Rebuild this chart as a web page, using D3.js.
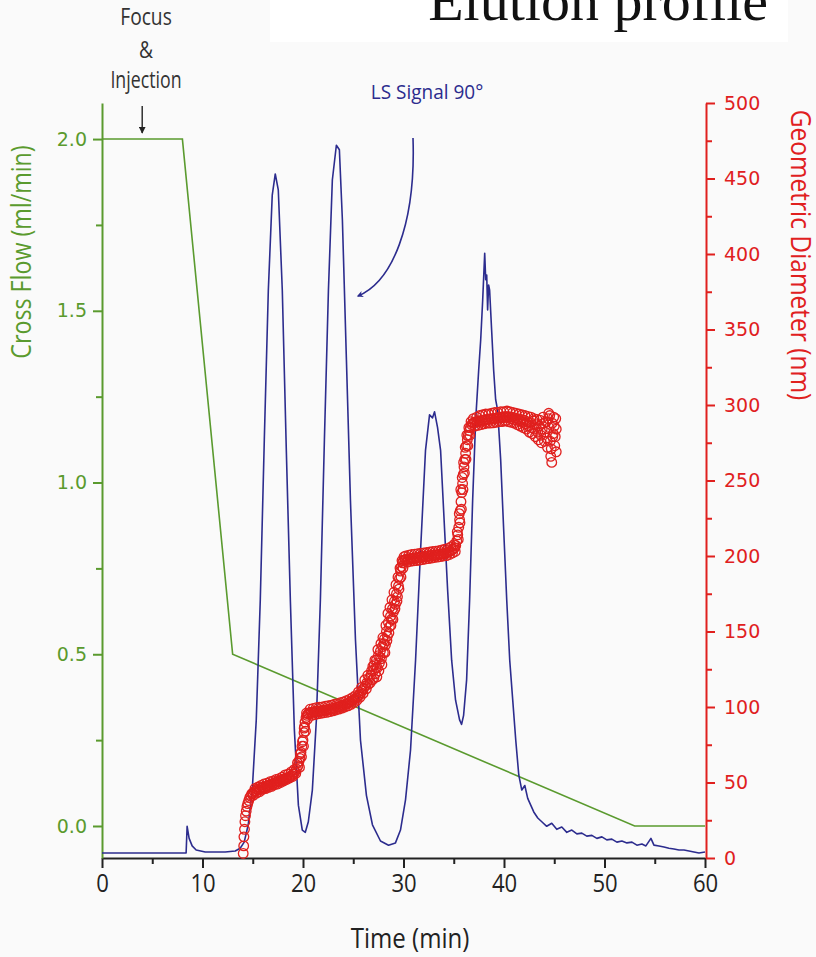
<!DOCTYPE html>
<html><head><meta charset="utf-8">
<script src="https://cdn.jsdelivr.net/npm/d3@7"></script>
<style>
html,body{margin:0;padding:0;background:#fafafa;}
svg{display:block;}
</style></head>
<body>
<svg id="chart" width="816" height="957"></svg>
<script>
// ---------- DATA ----------
const timeTicks = [0, 10, 20, 30, 40, 50, 60];
const flowTicks = [0.0, 0.5, 1.0, 1.5, 2.0];
const diamTicks = [0, 50, 100, 150, 200, 250, 300, 350, 400, 450, 500];

// Cross flow program (time min, ml/min)
const crossFlow = [[0, 2.0], [8.0, 2.0], [13.0, 0.5], [53.0, 0.0], [60.0, 0.0]];

// LS signal 90° (time min, arbitrary units 0-100)
const lsSignal = [
  [0,0.66],[8.37,0.66],[8.47,4.2],[8.67,2.6],[8.97,1.6],[9.37,1.06],[10.27,0.8],[12.26,0.8],[13.26,0.93],
  [13.75,1.3],[14.15,2.1],[14.55,4.4],[14.95,9.0],[15.35,18.3],[15.75,34.2],[16.15,55.4],[16.55,75.2],
  [16.94,87.8],[17.24,90.6],[17.54,88.5],[17.94,75.2],[18.34,54.0],[18.74,34.2],[19.14,17.0],[19.54,7.0],
  [19.93,3.7],[20.23,3.4],[20.53,4.8],[20.93,9.0],[21.33,18.3],[21.73,34.2],[22.13,55.4],[22.53,75.2],
  [22.92,89.8],[23.32,94.4],[23.62,93.8],[23.92,84.5],[24.32,66.0],[24.72,47.4],[25.22,28.9],[25.72,15.6],
  [26.31,8.3],[26.91,4.4],[27.71,2.25],[28.51,1.7],[29.20,2.0],[29.70,3.7],[30.20,7.7],[30.70,14.3],
  [31.20,26.2],[31.70,40.8],[32.19,54.0],[32.59,58.7],[32.89,58.3],[33.09,59.1],[33.39,57.0],[33.69,54.0],
  [33.99,46.1],[34.39,35.5],[34.79,26.2],[35.18,20.9],[35.58,18.3],[35.78,17.7],[35.98,18.9],[36.28,23.6],
  [36.58,34.2],[36.88,47.4],[37.18,58.0],[37.48,64.6],[37.68,68.6],[37.88,73.9],[38.08,80.1],[38.18,76.6],
  [38.28,77.2],[38.37,72.6],[38.47,75.9],[38.57,75.2],[38.77,69.9],[38.97,64.6],[39.17,60.7],[39.37,59.3],
  [39.67,52.7],[39.97,43.4],[40.27,34.2],[40.57,26.2],[40.87,20.9],[41.17,15.6],[41.47,11.0],[41.77,9.0],
  [42.07,9.6],[42.36,7.9],[42.66,7.0],[42.96,6.1],[43.36,5.3],[43.76,4.8],[44.25,4.2],[44.75,4.6],
  [45.25,3.8],[45.75,4.1],[46.25,3.4],[46.75,3.7],[47.25,3.2],[47.74,3.3],[48.24,2.9],[48.74,3.0],
  [49.24,2.6],[49.74,2.8],[50.23,2.4],[50.73,2.5],[51.23,2.1],[51.73,2.25],[52.23,2.0],[52.73,2.1],
  [53.22,1.7],[53.72,1.85],[54.12,1.6],[54.62,2.6],[54.92,1.7],[55.42,1.6],[55.92,1.46],[56.41,1.3],
  [56.91,1.2],[57.41,1.06],[57.91,1.06],[58.41,0.93],[58.90,0.8],[59.40,0.66],[60,0.8]
];

// Geometric diameter (time min, nm)
const diameter = [
  [14.05,3],[14.1,8],[14.12,14],[14.18,19],[14.22,24],[14.28,28],[14.35,31],[14.42,34],[14.5,36],[14.6,38],
  [14.7,40],[14.8,41],[14.9,42.5],[15.0,43],
  [15.15,44],[15.3,44.5],[15.45,45.5],[15.6,45],[15.75,46],[15.9,46.8],[16.05,47],[16.2,46.5],[16.35,47.5],
  [16.5,48],[16.65,48.3],[16.8,49],[16.95,48.7],[17.1,49.5],[17.25,50],[17.4,50.2],[17.55,51],[17.7,50.6],
  [17.85,51.5],[18.0,52],[18.15,52.3],[18.3,53],[18.45,52.8],[18.6,53.5],[18.75,54],[18.9,54.6],[19.05,55.5],[19.2,57],
  [15.05,41.5],[15.22,46],[15.38,43],[15.52,47],[15.68,44],[15.82,48],[15.98,45.5],[16.12,49],[16.28,46],
  [16.42,49.5],[16.58,46.8],[16.72,50.5],[16.88,47.5],[17.02,51],[17.18,48.5],[17.32,52],[17.48,49],[17.62,52.5],
  [17.78,50],[17.92,53.5],[18.08,51],[18.22,55],[18.38,52],[18.52,55.5],[18.68,53],[18.82,57],[18.98,54],
  [19.12,58.5],[19.28,56],
  [19.35,59],[19.5,61],[19.6,64],[19.7,66],[19.8,70],[19.9,74],[20.0,78],[20.1,83],[20.15,87],[20.2,90],
  [20.3,93],[20.4,94.5],[20.5,95.5],
  [19.45,63],[19.65,60],[19.75,69],[19.85,67],[19.95,77],[20.05,74],[20.12,86],[20.25,84],[20.35,96],[20.45,92],
  [20.65,96],[20.8,96.5],[20.95,96],[21.1,97],[21.25,96.8],[21.4,97.2],[21.55,97],[21.7,97.5],[21.85,97.2],
  [22.0,97.8],[22.15,98],[22.3,97.6],[22.45,98.3],[22.6,98.5],[22.75,98.2],[22.9,99],[23.05,99.3],[23.2,99],
  [23.35,99.8],[23.5,100.2],[23.65,100],[23.8,100.8],[23.95,101.2],[24.1,101],[24.25,101.8],[24.4,102.3],
  [24.55,102.8],[24.7,103.2],[24.85,104],[25.0,104.5],[25.15,105.3],[25.3,106],[25.45,107],
  [20.7,98.5],[20.88,94.5],[21.02,99],[21.18,95],[21.32,99.5],[21.48,95.5],[21.62,99.8],[21.78,95.8],[21.92,100],
  [22.08,96.2],[22.22,100.5],[22.38,96.5],[22.52,100.8],[22.68,97],[22.82,101.2],[22.98,97.5],[23.12,101.8],
  [23.28,98],[23.42,102.2],[23.58,98.6],[23.72,102.8],[23.88,99.3],[24.02,103.4],[24.18,100],[24.32,104.2],
  [24.48,100.8],[24.62,105],[24.78,101.8],[24.92,106.2],[25.08,103],[25.22,107.5],[25.38,104.5],[25.52,110],
  [25.68,106.5],[25.82,113],[25.98,109],
  [25.6,108],[25.75,109.5],[25.9,111],[26.05,112.5],[26.2,114],[26.35,116],[26.5,115],[26.6,119],[26.75,121],
  [26.9,118],[27.0,124],[27.1,128],[27.2,122],[27.3,131],[27.4,126],[27.5,134],[27.6,129],[27.7,137],[27.8,132],
  [27.9,140],[28.0,136],[28.1,145],[28.2,141],[28.3,150],[28.4,147],[28.5,156],[28.6,153],[28.7,160],[28.8,158],
  [28.9,165],[29.0,163],[29.1,170],[29.2,168],[29.3,175],[29.4,173],[29.5,180],[29.6,185],[29.7,190],[29.8,193],
  [29.9,195.5],[30.0,197],
  [26.15,118],[26.3,112],[26.45,121],[26.68,116],[26.82,124],[26.95,127],[27.05,119],[27.15,131],[27.25,126],
  [27.35,120],[27.45,138],[27.55,124],[27.65,133],[27.75,142],[27.85,128],[27.95,146],[28.05,142],[28.15,136],
  [28.25,154],[28.35,144],[28.45,162],[28.55,149],[28.65,166],[28.75,154],[28.85,171],[28.95,158],[29.05,176],
  [29.15,165],[29.25,181],[29.35,170],[29.45,186],[29.55,178],[29.65,192],[29.75,186],[29.85,197],[29.95,192],
  [30.05,199.5],
  [30.15,197.5],[30.3,198],[30.45,197.6],[30.6,198.3],[30.75,198],[30.9,198.6],[31.05,198.2],[31.2,199],
  [31.35,198.7],[31.5,199.2],[31.65,198.8],[31.8,199.5],[31.95,199.3],[32.1,199.8],[32.25,199.4],[32.4,200],
  [32.55,200.3],[32.7,199.8],[32.85,200.5],[33.0,200.2],[33.15,200.8],[33.3,200.5],[33.45,201],[33.6,201.3],
  [33.75,201],[33.9,201.6],[34.05,202],[34.2,201.7],[34.35,202.3],[34.5,202.8],[34.65,203.2],[34.8,203.8],
  [34.95,204.5],[35.1,205.5],[35.2,207],
  [30.22,200],[30.38,196],[30.52,200.5],[30.68,196.5],[30.82,201],[30.98,196.8],[31.12,201.2],[31.28,197],
  [31.42,201.5],[31.58,197.3],[31.72,201.8],[31.88,197.6],[32.02,202],[32.18,198],[32.32,202.3],[32.48,198.3],
  [32.62,202.6],[32.78,198.6],[32.92,203],[33.08,199],[33.22,203.2],[33.38,199.3],[33.52,203.5],[33.68,199.6],
  [33.82,204],[33.98,200],[34.12,204.5],[34.28,200.3],[34.42,205],[34.58,201],[34.72,206],[34.88,202],
  [35.02,207.5],[35.15,203],
  [35.3,210],[35.4,214],[35.5,219],[35.58,224],[35.65,230],[35.72,236],[35.8,242],[35.88,248],[35.95,254],
  [36.02,259],[36.1,264],[36.18,268],[36.26,273],[36.35,277],[36.45,280],[36.55,283],[36.65,285],[36.78,287],
  [35.35,216],[35.45,211],[35.55,228],[35.62,222],[35.7,244],[35.76,231],[35.84,252],[35.92,244],[35.98,262],
  [36.06,255],[36.14,272],[36.22,264],[36.3,280],[36.4,273],[36.5,285],[36.6,280],[36.72,289],
  [36.9,288],[37.05,288.5],[37.2,289],[37.35,288.7],[37.5,289.5],[37.65,289],[37.8,290],[37.95,289.6],
  [38.1,290.3],[38.25,290],[38.4,290.8],[38.55,290.4],[38.7,291],[38.85,290.6],[39.0,291.3],[39.15,291],
  [39.3,291.6],[39.45,291.2],[39.6,292],[39.75,291.5],[39.9,292.3],[40.05,291.7],[40.2,292.5],[40.35,291.8],
  [40.5,292.2],[40.65,291],[40.8,292],[40.95,290.5],[41.1,291.5],[41.25,290],[41.4,291],[41.55,289.5],
  [41.7,290.5],[41.85,288.5],[42.0,290],[42.15,287.5],[42.3,289],[42.45,286],[42.6,288.5],[42.75,285],
  [42.9,289.5],[43.05,284],[43.2,287],[43.35,282],[43.5,286],[43.65,280],[43.8,284],[43.95,288],[44.1,282],
  [44.25,278],[44.4,291],[44.5,285],[44.6,276],[44.7,271],[44.8,288],[44.9,281],[45.0,286],[45.1,279],
  [45.2,284],[44.55,293],[44.65,266],
  [36.95,291],[37.1,286],[37.28,292],[37.42,286.5],[37.58,293],[37.72,287],[37.88,293.5],[38.02,287.5],
  [38.18,294],[38.32,288],[38.48,294],[38.62,288],[38.78,294.5],[38.92,288.2],[39.08,295],[39.22,288.5],
  [39.38,295],[39.52,289],[39.68,295.5],[39.82,289],[39.98,295.5],[40.12,289.5],[40.28,296],[40.42,289],
  [40.58,295.5],[40.72,288.5],[40.88,295],[41.02,288],[41.18,294.5],[41.32,287],[41.48,294],[41.62,286],
  [41.78,293.5],[41.92,285],[42.08,293],[42.22,284],[42.38,292.5],[42.52,282],[42.68,292],[42.82,281],
  [42.98,291],[43.12,279],[43.28,290.5],[43.42,277],[43.58,290],[43.72,275],[43.88,292],[44.02,276],
  [44.18,289],[44.32,272],[44.45,294.5],[44.75,262],[44.85,279],[44.95,292],[45.05,273],[45.15,291],[45.2,269]
];

// ---------- LAYOUT ----------
const svg = d3.select("#chart");
const plotL = 102, plotR = 705, plotT = 103, plotB = 858;
const GREEN = "#5a9a2e", RED = "#e0201e", BLUE = "#2c2c8e", BLACK = "#222";
const SANS = "'Open Sans','Noto Sans',sans-serif";
const WIDE = "'DejaVu Sans','Verdana',sans-serif";

const x = d3.scaleLinear().domain([0, 60]).range([plotL, plotR]);
const yFlow = d3.scaleLinear().domain([-0.0932, 2.105]).range([plotB, plotT]);
const yDiam = d3.scaleLinear().domain([0, 500]).range([plotB, plotT]);
const yLS = d3.scaleLinear().domain([0, 100]).range([plotB, plotT]);

// condensed text helper (horizontal squeeze along baseline)
function label(tx, ty, str, size, color, sx, rot) {
  return svg.append("text")
    .attr("transform", `translate(${tx},${ty})${rot ? ` rotate(${rot})` : ""} scale(${sx},1)`)
    .attr("text-anchor", "middle").attr("font-family", SANS).attr("font-size", size)
    .attr("fill", color).text(str);
}

// title box
svg.append("rect").attr("x", 270).attr("y", 0).attr("width", 518).attr("height", 42).attr("fill", "#ffffff");
svg.append("text").attr("x", 768).attr("y", 20).attr("text-anchor", "end")
  .attr("font-family", "'Liberation Serif','DejaVu Serif',serif").attr("font-size", 58)
  .attr("fill", "#111").text("Elution profile");

// ---------- AXES ----------
// bottom
const xAxis = svg.append("g").attr("transform", `translate(0,${plotB})`)
  .call(d3.axisBottom(x).tickValues(timeTicks).tickSize(10).tickSizeOuter(0).tickFormat(d3.format("d")));
xAxis.select(".domain").attr("stroke", BLACK).attr("stroke-width", 2);
xAxis.selectAll(".tick line").attr("stroke", BLACK).attr("stroke-width", 2);
xAxis.selectAll(".tick text").attr("fill", BLACK).attr("font-family", SANS)
  .attr("font-size", 26).attr("y", 14).attr("dy", "0.78em").attr("transform", "scale(0.85,1)");
svg.append("g").attr("transform", `translate(0,${plotB})`)
  .call(d3.axisBottom(x).tickValues([5,15,25,35,45,55]).tickSize(6).tickFormat(""))
  .call(g => g.select(".domain").remove())
  .selectAll("line").attr("stroke", BLACK).attr("stroke-width", 2);

// left
const yAxisL = svg.append("g").attr("transform", `translate(${plotL},0)`)
  .call(d3.axisLeft(yFlow).tickValues(flowTicks).tickSize(9).tickSizeOuter(0).tickFormat(d3.format(".1f")));
yAxisL.select(".domain").attr("stroke", GREEN).attr("stroke-width", 2);
yAxisL.selectAll(".tick line").attr("stroke", GREEN).attr("stroke-width", 2);
yAxisL.selectAll(".tick text").attr("fill", GREEN).attr("font-family", WIDE).attr("font-size", 19).attr("x", -15);
svg.append("g").attr("transform", `translate(${plotL},0)`)
  .call(d3.axisLeft(yFlow).tickValues([0.25,0.75,1.25,1.75]).tickSize(6).tickFormat(""))
  .call(g => g.select(".domain").remove())
  .selectAll("line").attr("stroke", GREEN).attr("stroke-width", 2);

// right
const yAxisR = svg.append("g").attr("transform", `translate(${plotR + 1},0)`)
  .call(d3.axisRight(yDiam).tickValues(diamTicks).tickSize(9).tickSizeOuter(0));
yAxisR.select(".domain").attr("stroke", RED).attr("stroke-width", 2);
yAxisR.selectAll(".tick line").attr("stroke", RED).attr("stroke-width", 2);
yAxisR.selectAll(".tick text").attr("fill", RED).attr("font-family", WIDE).attr("font-size", 19).attr("x", 18);
svg.append("g").attr("transform", `translate(${plotR + 1},0)`)
  .call(d3.axisRight(yDiam).tickValues([25,75,125,175,225,275,325,375,425,475]).tickSize(6).tickFormat(""))
  .call(g => g.select(".domain").remove())
  .selectAll("line").attr("stroke", RED).attr("stroke-width", 2);

// ---------- SERIES ----------
svg.append("path").datum(crossFlow)
  .attr("fill", "none").attr("stroke", GREEN).attr("stroke-width", 1.6)
  .attr("d", d3.line().x(d => x(d[0])).y(d => yFlow(d[1])));

svg.append("path").datum(lsSignal)
  .attr("fill", "none").attr("stroke", BLUE).attr("stroke-width", 1.6).attr("stroke-linejoin", "round")
  .attr("d", d3.line().x(d => x(d[0])).y(d => yLS(d[1])));

svg.append("g").selectAll("circle").data(diameter).join("circle")
  .attr("cx", d => x(d[0])).attr("cy", d => yDiam(d[1])).attr("r", 4.8)
  .attr("fill", "none").attr("stroke", RED).attr("stroke-width", 1.3);

// ---------- ANNOTATIONS ----------
label(146, 25, "Focus", 24, "#333", 0.8);
label(146, 58, "&", 24, "#333", 0.8);
label(146, 88, "Injection", 24, "#333", 0.74);

svg.append("defs").html(`
  <marker id="ah" viewBox="0 0 10 10" refX="9" refY="5" markerWidth="5" markerHeight="5" orient="auto">
    <path d="M0,0 L10,5 L0,10 z" fill="#222"/></marker>
  <marker id="ahb" viewBox="0 0 10 10" refX="8" refY="5" markerWidth="6" markerHeight="4" orient="auto">
    <path d="M0,0 L10,5 L0,10 L3,5 z" fill="${BLUE}"/></marker>`);
svg.append("line").attr("x1", x(4)).attr("x2", x(4)).attr("y1", 106).attr("y2", 133)
  .attr("stroke", "#222").attr("stroke-width", 1.4).attr("marker-end", "url(#ah)");

label(427, 99, "LS Signal 90°", 20, BLUE, 0.95);
svg.append("path").attr("d", "M413,138 C416,225 392,282 358,296")
  .attr("fill", "none").attr("stroke", BLUE).attr("stroke-width", 1.6).attr("marker-end", "url(#ahb)");

// axis titles
label(31, 252, "Cross Flow (ml/min)", 28, GREEN, 0.83, -90);
label(791, 255, "Geometric Diameter (nm)", 28, RED, 0.875, 90);
label(410, 948, "Time (min)", 28, BLACK, 0.86);
</script>
</body></html>
